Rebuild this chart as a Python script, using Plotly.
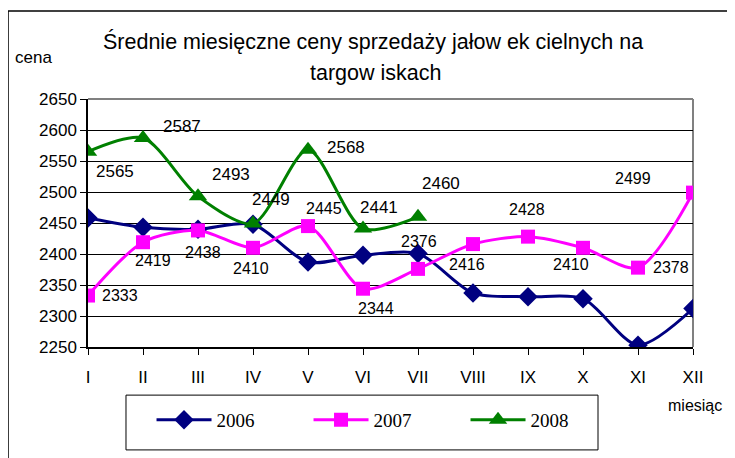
import plotly.graph_objects as go

months = ["I", "II", "III", "IV", "V", "VI", "VII", "VIII", "IX", "X", "XI", "XII"]
y2006 = [2458, 2443, 2440, 2448, 2387, 2398, 2401, 2337, 2331, 2328, 2253, 2312]
y2007 = [2333, 2419, 2438, 2410, 2445, 2344, 2376, 2416, 2428, 2410, 2378, 2499]
y2008 = [2565, 2587, 2493, 2449, 2568, 2441, 2460]
yticks = [2250, 2300, 2350, 2400, 2450, 2500, 2550, 2600, 2650]

# label offsets (pixels) for data labels
off2007 = [(32, 0), (10, 18), (5, 22), (-2, 21), (16, -18), (13, 20), (1, -27),
           (-6, 20), (-1, -27), (-12, 17), (33, 0), (-60, -14)]
off2008 = [(27, 20), (39, -12), (33, -22), (18, -24), (38, -2), (16, -21), (23, -33)]

xi = list(range(len(months)))
FONT = "Liberation Sans, Arial, sans-serif"
SERIF = "Liberation Serif, Times New Roman, serif"

fig = go.Figure()
fig.add_trace(go.Scatter(x=xi, y=y2006, name="2006", mode="lines+markers",
                         line=dict(color="#000080", width=3, shape="spline", smoothing=0.8),
                         marker=dict(symbol="diamond", size=15, color="#000080")))
fig.add_trace(go.Scatter(x=xi, y=y2007, name="2007", mode="lines+markers",
                         line=dict(color="#FF00FF", width=3, shape="spline", smoothing=0.8),
                         marker=dict(symbol="square", size=14, color="#FF00FF")))
fig.add_trace(go.Scatter(x=xi[:len(y2008)], y=y2008, name="2008", mode="lines+markers",
                         line=dict(color="#008000", width=3, shape="spline", smoothing=0.8),
                         marker=dict(symbol="triangle-up", size=16, color="#008000")))

ann = []
for i, v in enumerate(y2007):
    dx, dy = off2007[i]
    ann.append(dict(x=i, y=v, text=str(v), showarrow=False, xshift=dx, yshift=-dy,
                    xanchor="center", yanchor="middle",
                    font=dict(family=FONT, size=16, color="black")))
for i, v in enumerate(y2008):
    dx, dy = off2008[i]
    ann.append(dict(x=i, y=v, text=str(v), showarrow=False, xshift=dx, yshift=-dy,
                    xanchor="center", yanchor="middle",
                    font=dict(family=FONT, size=17, color="black")))

ann += [
    dict(xref="paper", yref="paper", x=0.471, y=1.230, text="Średnie miesięczne ceny sprzedaży jałow ek cielnych na",
         showarrow=False, xanchor="center", yanchor="middle",
         font=dict(family=FONT, size=21.5, color="black")),
    dict(xref="paper", yref="paper", x=0.475, y=1.105, text="targow iskach",
         showarrow=False, xanchor="center", yanchor="middle",
         font=dict(family=FONT, size=21.5, color="black")),
    dict(xref="paper", yref="paper", x=-0.0909, y=1.167, text="cena",
         showarrow=False, xanchor="center", yanchor="middle",
         font=dict(family=FONT, size=17, color="black")),
    dict(xref="paper", yref="paper", x=1.052, y=-0.234, text="miesiąc",
         showarrow=False, xanchor="right", yanchor="middle",
         font=dict(family=FONT, size=16, color="black")),
]

shapes = [
    # plot area top & right border (gray)
    dict(type="line", xref="paper", yref="paper", x0=0, x1=1, y0=1, y1=1,
         line=dict(color="#808080", width=2), layer="between"),
    dict(type="line", xref="paper", yref="paper", x0=1, x1=1, y0=0, y1=1,
         line=dict(color="#808080", width=2), layer="between"),
    # legend box
    dict(type="rect", xref="paper", yref="paper", x0=0.0628, x1=0.843, y0=-0.415, y1=-0.194,
         line=dict(color="black", width=1)),
    # outer frame
    dict(type="line", xref="paper", yref="paper", x0=-0.1322, x1=1.1, y0=1.3548, y1=1.3548,
         line=dict(color="black", width=1.5)),
    dict(type="line", xref="paper", yref="paper", x0=-0.1322, x1=-0.1322, y0=-0.5, y1=1.3548,
         line=dict(color="black", width=1.5)),
]

fig.update_layout(
    width=727, height=450,
    margin=dict(l=80, r=42, t=91, b=111, autoexpand=False),
    paper_bgcolor="white", plot_bgcolor="white",
    font=dict(family=FONT, color="black"),
    showlegend=True,
    legend=dict(orientation="h", x=0.105, y=-0.294, xanchor="left", yanchor="middle",
                entrywidth=87, entrywidthmode="pixels", itemwidth=55,
                font=dict(family=SERIF, size=19, color="black"),
                bgcolor="rgba(0,0,0,0)", borderwidth=0),
    annotations=ann,
    shapes=shapes,
    xaxis=dict(range=[0, 11], tickvals=xi, ticktext=months, showgrid=False,
               showline=True, linecolor="black", linewidth=1.5,
               ticks="outside", ticklen=6, tickcolor="black",
               ticklabelstandoff=8,
               tickfont=dict(family=FONT, size=17, color="black"), zeroline=False),
    yaxis=dict(range=[2250, 2650], tickvals=yticks, showgrid=True, gridcolor="black", gridwidth=1,
               showline=True, linecolor="black", linewidth=1.5,
               ticks="outside", ticklen=6, tickcolor="black",
               tickfont=dict(family=FONT, size=17, color="black"), zeroline=False),
)

fig.write_html("out.html")
